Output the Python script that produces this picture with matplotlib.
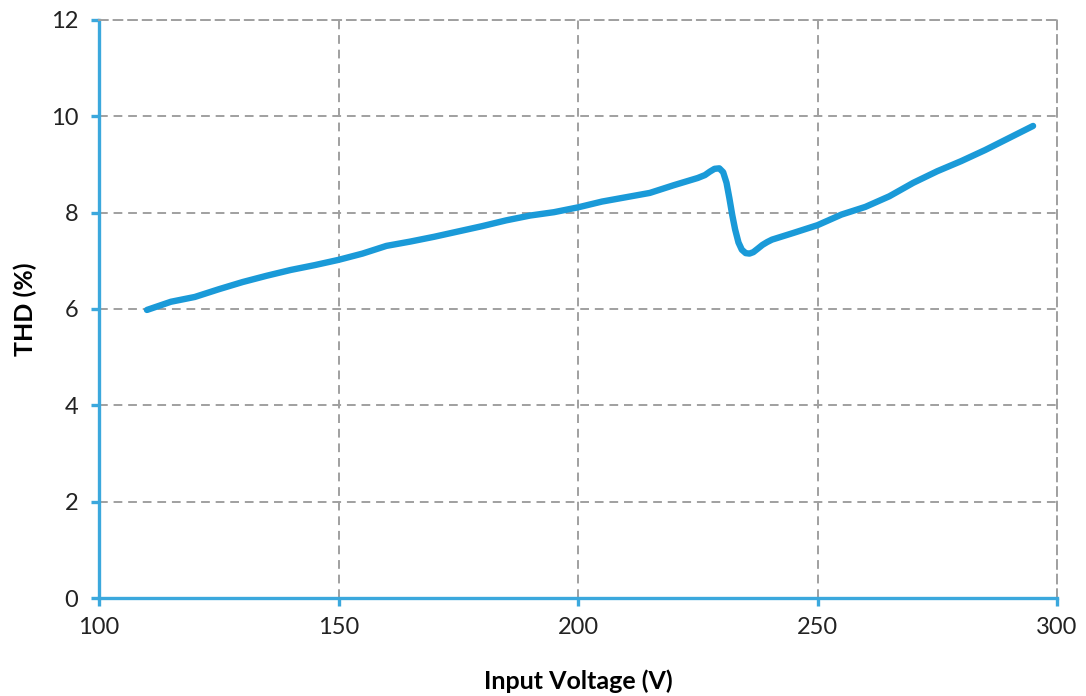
import matplotlib.pyplot as plt

# THD vs input voltage
voltage = [110, 115, 120, 125, 130, 135, 140, 145, 150, 155, 160, 165, 170, 175,
           180, 185, 190, 195, 200, 205, 210, 215, 220, 225, 226.5, 227.5,
           228.5, 229.5, 230.3, 231, 231.6, 232.2, 232.8, 233.5, 234.2, 235,
           235.8, 236.6, 237.5, 238.5, 239.5, 240.5, 245, 250, 255, 260, 265,
           270, 275, 280, 285, 290, 295]
thd = [5.98, 6.15, 6.25, 6.41, 6.56, 6.69, 6.81, 6.91, 7.02, 7.15, 7.31, 7.40,
       7.50, 7.61, 7.72, 7.84, 7.94, 8.01, 8.11, 8.23, 8.32, 8.41, 8.57, 8.72,
       8.78, 8.85, 8.91, 8.92, 8.84, 8.62, 8.30, 7.95, 7.65, 7.38, 7.23, 7.16,
       7.15, 7.18, 7.25, 7.33, 7.39, 7.44, 7.58, 7.74, 7.96, 8.12, 8.34, 8.62,
       8.86, 9.07, 9.30, 9.55, 9.80]

blue = '#1a9ad8'
spine_blue = '#3ba8dd'
grid_grey = '#a0a0a0'

plt.rcParams['font.family'] = ['Lato', 'DejaVu Sans']

fig = plt.figure(figsize=(10.86, 6.96), dpi=100)
ax = fig.add_axes([0.0912, 0.1408, 0.8821, 0.8305])

ax.plot(voltage, thd, color=blue, linewidth=4.6, solid_capstyle='round',
        solid_joinstyle='round', zorder=3)

ax.set_xlim(100, 300)
ax.set_ylim(0, 12)
ax.set_xticks([100, 150, 200, 250, 300])
ax.set_yticks([0, 2, 4, 6, 8, 10, 12])

ax.grid(True, color=grid_grey, linestyle=(0, (4.5, 3)), linewidth=1.4)
ax.set_axisbelow(True)

for side in ['top', 'right']:
    ax.spines[side].set_color(grid_grey)
    ax.spines[side].set_linestyle((0, (4.5, 3)))
    ax.spines[side].set_linewidth(1.4)
for side in ['left', 'bottom']:
    ax.spines[side].set_color(spine_blue)
    ax.spines[side].set_linewidth(2.4)

ax.tick_params(axis='both', direction='out', length=6, width=2.4,
               color=spine_blue, labelsize=17, labelcolor='#222222')
ax.tick_params(axis='y', pad=9)
ax.tick_params(axis='x', pad=8)

ax.set_xlabel('Input Voltage (V)', fontsize=18, fontweight='bold', labelpad=22)
ax.set_ylabel('THD (%)', fontsize=18, fontweight='bold', labelpad=10)

fig.savefig('out.png', dpi=100)
